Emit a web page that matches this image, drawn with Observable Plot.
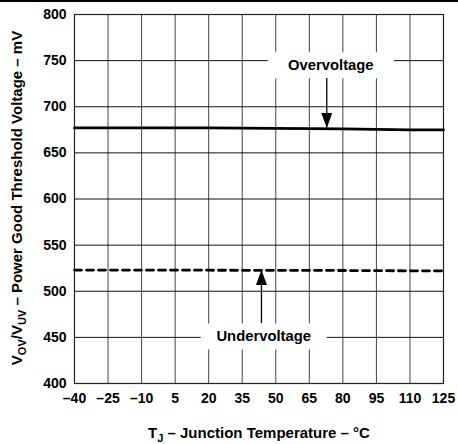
<!DOCTYPE html>
<html><head><meta charset="utf-8">
<script src="https://cdn.jsdelivr.net/npm/d3@7"></script>
<script src="https://cdn.jsdelivr.net/npm/@observablehq/plot@0.6"></script>
<style>
body{margin:0;background:#fff;}
#wrap{position:relative;width:458px;height:444px;}
#rule{position:absolute;left:0;top:0;width:458px;height:2px;background:#000;}
svg{display:block;}
</style></head><body>
<div id="wrap"><div id="chart"></div><div id="rule"></div></div>
<script>
// ---- data ----
const xTicks = [-40, -25, -10, 5, 20, 35, 50, 65, 80, 95, 110, 125];
const yTicks = [400, 450, 500, 550, 600, 650, 700, 750, 800];
const ovTemp = [-40, -10, 20, 50, 80, 110, 125];
const ovVolt = [677, 677, 677, 676.5, 676, 675, 675];
const uvTemp = [-40, 20, 80, 125];
const uvVolt = [523, 522.8, 522.5, 522];
const labelText = ["Overvoltage", "Undervoltage"];
const labelTemp = [74.6, 44.6];
const labelVolt = [745, 451];
const arrowTemp = [72.8, 43.6];
const arrowFrom = [730.6, 465];
const arrowTo = [677, 523];

const ov = ovTemp.map((t, i) => ({t, v: ovVolt[i]}));
const uv = uvTemp.map((t, i) => ({t, v: uvVolt[i]}));
const labels = labelText.map((s, i) => ({s, t: labelTemp[i], v: labelVolt[i]}));
const arrows = arrowTemp.map((t, i) => ({t, v1: arrowFrom[i], v2: arrowTo[i], dir: i === 0 ? "down" : "up"}));

const FONT = '"Liberation Sans", Arial, Helvetica, sans-serif';
const boxSym = {draw(ctx) { ctx.rect(-63, -13, 126, 26); }};
const headDown = {draw(ctx) { ctx.moveTo(0, 0); ctx.lineTo(-5.5, -15); ctx.lineTo(5.5, -15); ctx.closePath(); }};
const headUp = {draw(ctx) { ctx.moveTo(0, 0); ctx.lineTo(-5.5, 15); ctx.lineTo(5.5, 15); ctx.closePath(); }};
const fmt = d => d < 0 ? "\u2013" + Math.abs(d) : String(d);

const svg = Plot.plot({
  width: 458, height: 444,
  marginLeft: 74, marginRight: 15, marginTop: 14, marginBottom: 61,
  style: {fontFamily: FONT, fontSize: "14px", fontWeight: "bold", color: "#000", background: "#fff", overflow: "visible"},
  x: {domain: [-40, 125]},
  y: {domain: [400, 800]},
  marks: [
    Plot.gridX(xTicks, {stroke: "#444", strokeOpacity: 1, strokeWidth: 1}),
    Plot.gridY(yTicks, {stroke: "#111", strokeOpacity: 1, strokeWidth: 1}),
    Plot.axisX(xTicks, {tickSize: 0, tickPadding: 10, label: null, tickFormat: fmt, fontSize: 14}),
    Plot.axisY(yTicks, {tickSize: 0, tickPadding: 8, label: null, fontSize: 14}),
    Plot.frame({stroke: "#222", strokeWidth: 1.2}),
    Plot.dot(labels, {x: "t", y: "v", symbol: boxSym, fill: "#fff", stroke: "none", r: 5}),
    Plot.line(ov, {x: "t", y: "v", stroke: "#000", strokeWidth: 2.8}),
    Plot.line(uv, {x: "t", y: "v", stroke: "#000", strokeWidth: 2.8, strokeDasharray: "7,5"}),
    Plot.ruleX(arrows, {x: "t", y1: "v1", y2: "v2", stroke: "#000", strokeWidth: 1.3}),
    Plot.dot(arrows.filter(d => d.dir === "down"), {x: "t", y: "v2", symbol: headDown, fill: "#000", stroke: "none", r: 5}),
    Plot.dot(arrows.filter(d => d.dir === "up"), {x: "t", y: "v2", symbol: headUp, fill: "#000", stroke: "none", r: 5}),
    Plot.text(labels, {x: "t", y: "v", text: "s", fontSize: 14.8, fontWeight: "bold", fill: "#000"})
  ]
});

const s = d3.select(svg);
const yl = s.append("text")
  .attr("transform", "translate(22,198) rotate(-90)")
  .attr("text-anchor", "middle")
  .attr("font-family", FONT).attr("font-size", 15).attr("font-weight", "bold").attr("fill", "#000");
yl.append("tspan").text("V");
yl.append("tspan").attr("font-size", 11).attr("dy", 4).text("OV");
yl.append("tspan").attr("dy", -4).text("/V");
yl.append("tspan").attr("font-size", 11).attr("dy", 4).text("UV");
yl.append("tspan").attr("dy", -4).text(" \u2013 Power Good Threshold Voltage \u2013 mV");

const xl = s.append("text")
  .attr("x", 259).attr("y", 438)
  .attr("text-anchor", "middle")
  .attr("font-family", FONT).attr("font-size", 15).attr("font-weight", "bold").attr("fill", "#000");
xl.append("tspan").text("T");
xl.append("tspan").attr("font-size", 11).attr("dy", 4).text("J");
xl.append("tspan").attr("dy", -4).text(" \u2013 Junction Temperature \u2013 \u00B0C");

document.getElementById("chart").appendChild(svg);
</script>
</body></html>
